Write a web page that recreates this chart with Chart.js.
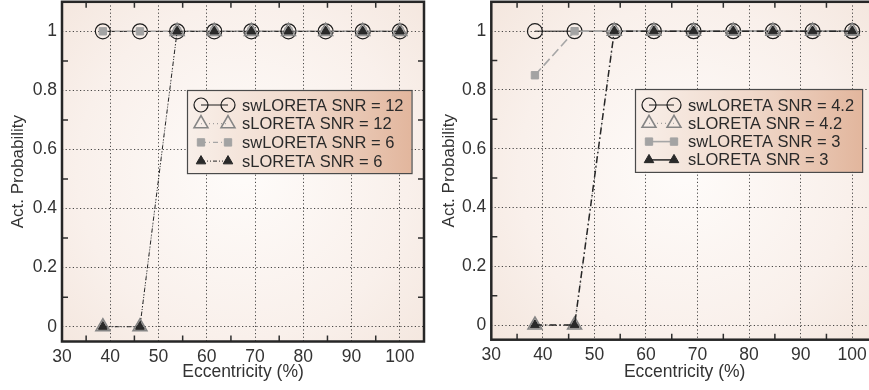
<!DOCTYPE html>
<html><head><meta charset="utf-8">
<script src="https://cdn.jsdelivr.net/npm/chart.js@4/dist/chart.umd.min.js"></script>
<style>
html,body{margin:0;padding:0;background:#fff;overflow:hidden;width:869px;height:390px;}
#c1{position:absolute;left:0;top:0;}
#c2{position:absolute;left:434px;top:0;}
</style></head><body>
<canvas id="c1" width="434" height="390"></canvas>
<canvas id="c2" width="454" height="390"></canvas>
<script>
// ---- data ----
const eccentricity = [38.46, 46.15, 53.85, 61.54, 69.23, 76.92, 84.62, 92.31, 100];
const xTickValues = [30, 40, 50, 60, 70, 80, 90, 100];
const xTickLabels = ['30', '40', '50', '60', '70', '80', '90', '100'];
const yTickValues = [0, 0.2, 0.4, 0.6, 0.8, 1];
const yTickLabels = ['0', '0.2', '0.4', '0.6', '0.8', '1'];
const xMinorTicks = [35, 45, 55, 65, 75, 85, 95];
const yMinorTicks = [0.1, 0.3, 0.5, 0.7, 0.9];

const leftLabels = ['swLORETA SNR = 12', 'sLORETA SNR = 12', 'swLORETA SNR = 6', 'sLORETA SNR = 6'];
const leftSwHigh = [1, 1, 1, 1, 1, 1, 1, 1, 1];
const leftSHigh  = [0, 0, 1, 1, 1, 1, 1, 1, 1];
const leftSwLow  = [1, 1, 1, 1, 1, 1, 1, 1, 1];
const leftSLow   = [0, 0, 1, 1, 1, 1, 1, 1, 1];

const rightLabels = ['swLORETA SNR = 4.2', 'sLORETA SNR = 4.2', 'swLORETA SNR = 3', 'sLORETA SNR = 3'];
const rightSwHigh = [1, 1, 1, 1, 1, 1, 1, 1, 1];
const rightSHigh  = [0, 0, 1, 1, 1, 1, 1, 1, 1];
const rightSwLow  = [0.85, 1, 1, 1, 1, 1, 1, 1, 1];
const rightSLow   = [0, 0, 1, 1, 1, 1, 1, 1, 1];

const xTitle = 'Eccentricity (%)';
const yTitle = 'Act. Probability';

// ---- helpers ----
const FONT = '"Liberation Sans", Arial, Helvetica, sans-serif';
const TXT = '#333333';

function pts(ys) { return eccentricity.map((x, i) => ({x: x, y: ys[i]})); }

function drawMarker(ctx, style, r, x, y, fill, stroke, lw) {
  ctx.save();
  ctx.lineWidth = lw;
  ctx.fillStyle = fill;
  ctx.strokeStyle = stroke;
  ctx.setLineDash([]);
  ctx.beginPath();
  if (style === 'circle') {
    ctx.arc(x, y, r, 0, Math.PI * 2);
  } else if (style === 'triangle') {
    ctx.moveTo(x, y - r);
    ctx.lineTo(x + r * Math.sin(Math.PI * 2 / 3), y - r * Math.cos(Math.PI * 2 / 3));
    ctx.lineTo(x + r * Math.sin(Math.PI * 4 / 3), y - r * Math.cos(Math.PI * 4 / 3));
    ctx.closePath();
  } else if (style === 'rect') {
    const s = r * Math.SQRT1_2;
    ctx.rect(x - s, y - s, 2 * s, 2 * s);
  }
  ctx.fill();
  ctx.stroke();
  ctx.restore();
}

const bgPlugin = {
  id: 'bgPlugin',
  beforeDraw(chart) {
    const {ctx, chartArea: a} = chart;
    const cx = (a.left + Math.min(a.right, chart.width)) / 2, cy = (a.top + a.bottom) / 2;
    const g = ctx.createRadialGradient(cx, cy, 10, cx, cy, 270);
    g.addColorStop(0, '#fefbf9');
    g.addColorStop(0.6, '#f9f0eb');
    g.addColorStop(1, '#f3e5dc');
    ctx.save();
    ctx.fillStyle = g;
    ctx.fillRect(a.left, a.top, a.right - a.left, a.bottom - a.top);
    ctx.restore();
  },
  afterDraw(chart) {
    const {ctx, chartArea: a} = chart;
    const xs = chart.scales.x, ys = chart.scales.y;
    ctx.save();
    ctx.strokeStyle = '#2e2e2e';
    ctx.lineWidth = 1.5;
    ctx.setLineDash([]);
    const L = 6;
    xMinorTicks.forEach(v => {
      const px = xs.getPixelForValue(v);
      ctx.beginPath();
      ctx.moveTo(px, a.bottom); ctx.lineTo(px, a.bottom - L);
      ctx.moveTo(px, a.top); ctx.lineTo(px, a.top + L);
      ctx.stroke();
    });
    yMinorTicks.forEach(v => {
      const py = ys.getPixelForValue(v);
      ctx.beginPath();
      ctx.moveTo(a.left, py); ctx.lineTo(a.left + L, py);
      ctx.moveTo(a.right, py); ctx.lineTo(a.right - L, py);
      ctx.stroke();
    });
    ctx.strokeStyle = '#262626';
    ctx.lineWidth = 2.5;
    ctx.strokeRect(a.left, a.top, a.right - a.left, a.bottom - a.top);
    ctx.restore();
  }
};

const boxLegend = {
  id: 'boxLegend',
  afterDatasetsDraw(chart, args, o) {
    const ctx = chart.ctx;
    const ds = chart.data.datasets;
    ctx.save();
    ctx.font = '16.5px ' + FONT;
    let maxW = 0;
    ds.forEach(d => { maxW = Math.max(maxW, ctx.measureText(d.label).width); });
    const w = o.textX + maxW + o.padR;
    const h = o.padTop + o.rowH * (ds.length - 1) + o.padBottom;
    const g = ctx.createLinearGradient(o.x, 0, o.x + w, 0);
    g.addColorStop(0, '#f8efe9');
    g.addColorStop(0.5, '#f0d9cb');
    g.addColorStop(1, '#e2b69d');
    ctx.fillStyle = g;
    ctx.fillRect(o.x, o.y, w, h);
    ctx.strokeStyle = '#4a4a4a';
    ctx.lineWidth = 1.2;
    ctx.strokeRect(o.x + 0.5, o.y + 0.5, w, h);
    ds.forEach((d, i) => {
      const ry = o.y + o.padTop + i * o.rowH;
      const x1 = o.x + o.m1, x2 = o.x + o.m2;
      ctx.save();
      ctx.strokeStyle = d.borderColor;
      ctx.lineWidth = d.borderWidth;
      ctx.setLineDash(d.legendDash || d.borderDash || []);
      ctx.beginPath();
      ctx.moveTo(x1, ry); ctx.lineTo(x2, ry);
      ctx.stroke();
      ctx.restore();
      const r = d.legendRadius || d.pointRadius;
      drawMarker(ctx, d.pointStyle, r, x1, ry, d.pointBackgroundColor, d.pointBorderColor, d.pointBorderWidth);
      drawMarker(ctx, d.pointStyle, r, x2, ry, d.pointBackgroundColor, d.pointBorderColor, d.pointBorderWidth);
      ctx.fillStyle = '#2a2a2a';
      ctx.textBaseline = 'middle';
      ctx.textAlign = 'left';
      ctx.fillText(d.label, o.x + o.textX, ry + 1);
    });
    ctx.restore();
  }
};

function makeDatasets(labels, arrs, right) {
  return [
    {label: labels[0], data: pts(arrs[0]), borderColor: '#1c1c1c', borderWidth: 1, borderDash: [],
     pointStyle: 'circle', pointRadius: 7.5, pointBorderColor: '#1c1c1c', pointBackgroundColor: 'rgba(0,0,0,0)',
     pointBorderWidth: 1.2, order: 4, legendRadius: 7},
    {label: labels[1], data: pts(arrs[1]), borderColor: '#8c8c8c', borderWidth: 1, borderDash: [1, 3],
     pointStyle: 'triangle', pointRadius: 8, pointBorderColor: '#858585', pointBackgroundColor: 'rgba(255,255,255,0.15)',
     pointBorderWidth: 1.6, order: 3, legendRadius: 8},
    {label: labels[2], data: pts(arrs[2]), borderColor: '#a6a6a6', borderWidth: right ? 1.6 : 1.2,
     borderDash: right ? [9, 4] : [5, 3, 1, 3], legendDash: right ? [] : [5, 3, 1, 3],
     pointStyle: 'rect', pointRadius: 5.2, pointBorderColor: '#a3a3a3', pointBackgroundColor: '#a3a3a3',
     pointBorderWidth: 1, order: 2, legendRadius: 5.2},
    {label: labels[3], data: pts(arrs[3]), borderColor: '#262626', borderWidth: right ? 1.5 : 1,
     borderDash: right ? [7, 3, 1.5, 3] : [4, 2, 1, 2, 1, 2], legendDash: right ? [] : [4, 2, 1, 2, 1, 2],
     pointStyle: 'triangle', pointRadius: 5.2, pointBorderColor: '#262626', pointBackgroundColor: '#2a2a2a',
     pointBorderWidth: 1, order: 1, legendRadius: 5.5}
  ];
}

function makeChart(id, labels, arrs, cfg) {
  return new Chart(document.getElementById(id), {
    type: 'line',
    data: {datasets: makeDatasets(labels, arrs, cfg.right)},
    plugins: [bgPlugin, boxLegend],
    options: {
      responsive: false,
      animation: false,
      devicePixelRatio: 1,
      layout: {autoPadding: false, padding: {left: 0, top: 1.8, right: 10, bottom: 0}},
      elements: {line: {tension: 0}},
      plugins: {
        legend: {display: false},
        tooltip: {enabled: false},
        boxLegend: cfg.legend
      },
      scales: {
        x: {
          type: 'linear', min: 30, max: 105,
          afterBuildTicks: s => { s.ticks = xTickValues.map(v => ({value: v})); },
          afterFit: s => { s.height = cfg.xH; s.paddingLeft = 0; s.paddingRight = 0; s.paddingTop = 0; s.paddingBottom = 0; },
          ticks: {autoSkip: false, maxRotation: 0, padding: 5, color: TXT,
                  font: {family: FONT, size: 17.5},
                  callback: (v, i) => xTickLabels[i]},
          grid: {drawTicks: false, color: 'rgba(40,40,40,0.85)', lineWidth: 1},
          border: {display: false, dash: [1.2, 2.4]},
          title: {display: true, text: xTitle, color: TXT, font: {family: FONT, size: 17.5},
                  padding: {top: 0, bottom: 7}}
        },
        y: {
          type: 'linear', min: -0.05, max: 1.1,
          afterBuildTicks: s => { s.ticks = yTickValues.map(v => ({value: v})); },
          afterFit: s => { s.width = cfg.yW; s.paddingLeft = 0; s.paddingRight = 0; s.paddingTop = 0; s.paddingBottom = 0; },
          ticks: {autoSkip: false, padding: 5, color: TXT, font: {family: FONT, size: 17.5},
                  callback: (v, i) => yTickLabels[i]},
          grid: {drawTicks: false, color: 'rgba(40,40,40,0.85)', lineWidth: 1},
          border: {display: false, dash: [1.2, 2.4]},
          title: {display: true, text: yTitle, color: TXT, font: {family: FONT, size: 17},
                  padding: {top: cfg.yTitlePad, bottom: 0}}
        }
      }
    }
  });
}

makeChart('c1', leftLabels, [leftSwHigh, leftSHigh, leftSwLow, leftSLow], {
  right: false, xH: 48.5, yW: 62, yTitlePad: 8.2,
  legend: {x: 187, y: 90, padTop: 15, rowH: 18.7, padBottom: 12, m1: 14, m2: 41, textX: 55, padR: 8}
});
makeChart('c2', rightLabels, [rightSwHigh, rightSHigh, rightSwLow, rightSLow], {
  right: true, xH: 50.3, yW: 57.3, yTitlePad: 5.2,
  legend: {x: 201, y: 89, padTop: 16, rowH: 18.3, padBottom: 12, m1: 14, m2: 39, textX: 53, padR: 8}
});
</script>
</body></html>
